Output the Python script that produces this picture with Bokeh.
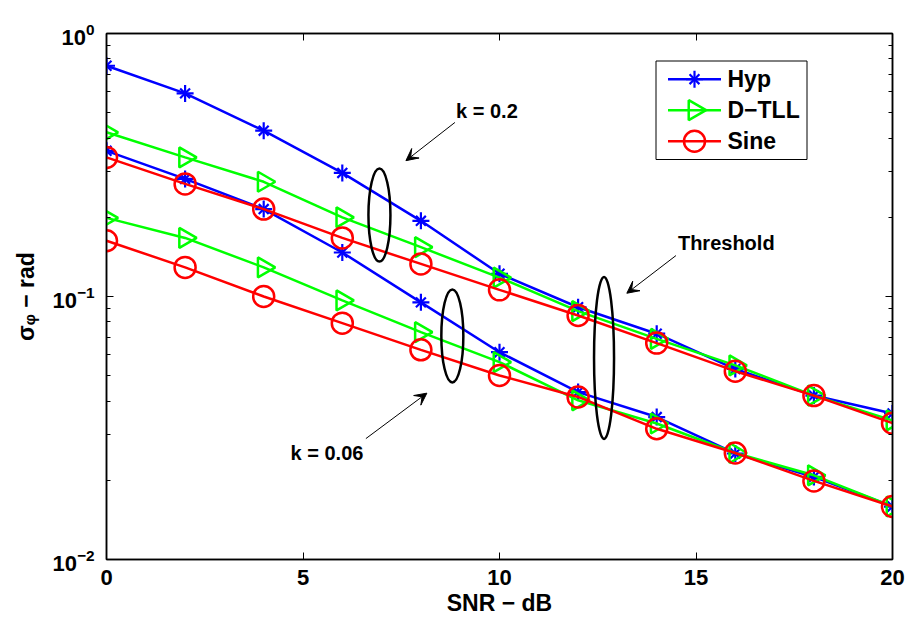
from bokeh.plotting import figure
from bokeh.models import (Range1d, LinearAxis, LogAxis, FixedTicker, CustomJSTickFormatter,
                          Label, Arrow, VeeHead, LinearScale)
from bokeh.core.properties import value
from bokeh.embed import file_html
from bokeh.resources import INLINE

snr = [0, 2, 4, 6, 8, 10, 12, 14, 16, 18, 20]
hyp_k02 = [0.754, 0.592, 0.427, 0.295, 0.194, 0.122, 0.091, 0.0722, 0.053, 0.042, 0.0359]
dtll_k02 = [0.421, 0.338, 0.273, 0.200, 0.154, 0.118, 0.088, 0.069, 0.0547, 0.042, 0.0338]
sine_k02 = [0.338, 0.268, 0.215, 0.167, 0.133, 0.106, 0.0847, 0.0665, 0.052, 0.042, 0.033]
hyp_k006 = [0.358, 0.280, 0.215, 0.147, 0.095, 0.0614, 0.0433, 0.0348, 0.0253, 0.0206, 0.0159]
dtll_k006 = [0.199, 0.167, 0.129, 0.0966, 0.0732, 0.0563, 0.0403, 0.0329, 0.0254, 0.0209, 0.0159]
sine_k006 = [0.163, 0.129, 0.100, 0.0792, 0.0627, 0.0501, 0.0415, 0.0314, 0.0254, 0.0199, 0.0159]

x_ticks = [0, 5, 10, 15, 20]
y_ticks = [0.01, 0.1, 1]
y_minor = [m * 10.0 ** e for e in (-2, -1) for m in range(2, 10)]
series_names = ["Hyp", "D\u2212TLL", "Sine"]
x_label = "SNR \u2212 dB"
y_label = "\u03c3\u1d69 \u2212 rad"

FONT = "Liberation Sans"
BLUE, GREEN, RED = "#0000ff", "#00ff00", "#ff0000"

W, H = 911, 621
BL, BR, BT, BB = 106, 19, 33, 62
FW, FH = W - BL - BR, H - BT - BB

p = figure(width=W, height=H, output_backend="svg", toolbar_location=None,
           y_axis_type="log", x_range=Range1d(0, 20), y_range=Range1d(0.01, 1),
           min_border_left=BL, min_border_right=BR, min_border_top=BT, min_border_bottom=BB)
p.extra_x_ranges = {"lx": Range1d(0, FW)}
p.extra_y_ranges = {"ly": Range1d(0, FH)}
p.extra_x_scales = {"lx": LinearScale()}
p.extra_y_scales = {"ly": LinearScale()}
p.xgrid.grid_line_color = None
p.ygrid.grid_line_color = None
p.outline_line_color = "black"
p.outline_line_width = 1.5
p.background_fill_color = "white"
p.border_fill_color = "white"

def style_axis(ax):
    ax.axis_line_color = "black"
    ax.axis_line_width = 1.5
    ax.major_tick_in = 7
    ax.major_tick_out = 0
    ax.minor_tick_in = 4
    ax.minor_tick_out = 0
    ax.major_tick_line_color = "black"
    ax.minor_tick_line_color = "black"
    ax.major_label_text_font = FONT
    ax.major_label_text_font_style = "bold"
    ax.major_label_text_font_size = "22px"
    ax.major_label_text_color = "black"
    ax.axis_label_text_font = FONT
    ax.axis_label_text_font_style = "bold"
    ax.axis_label_text_font_size = "23px"
    ax.axis_label_text_color = "black"

xa = p.xaxis[0]
style_axis(xa)
xa.ticker = FixedTicker(ticks=x_ticks)
xa.minor_tick_line_color = None
xa.major_label_standoff = 10
xa.axis_label = x_label
xa.axis_label_standoff = 2

ya = p.yaxis[0]
style_axis(ya)
ya.ticker = FixedTicker(ticks=y_ticks, minor_ticks=y_minor)
ya.major_label_standoff = 12
ya.axis_label = y_label
ya.axis_label_standoff = 10

top = LinearAxis(ticker=FixedTicker(ticks=x_ticks), formatter=CustomJSTickFormatter(code="return ''"))
style_axis(top)
top.minor_tick_line_color = None
top.major_label_standoff = 0
p.add_layout(top, "above")

right = LogAxis(ticker=FixedTicker(ticks=y_ticks, minor_ticks=y_minor),
                formatter=CustomJSTickFormatter(code="return ''"))
style_axis(right)
right.major_label_standoff = 0
p.add_layout(right, "right")

def hyp_marks(x, y, **kw):
    p.scatter(x, y, marker="cross", size=17, line_color=BLUE, line_width=2.2, **kw)
    p.scatter(x, y, marker="x", size=14, line_color=BLUE, line_width=2.2, **kw)

def dtll_marks(x, y, **kw):
    p.scatter(x, y, marker="triangle", angle=-1.5708, size=20, line_color=GREEN,
              fill_color=None, line_width=2.5, **kw)

def sine_marks(x, y, **kw):
    p.scatter(x, y, marker="circle", size=21, line_color=RED, fill_color=None, line_width=2.5, **kw)

for yv in (hyp_k02, hyp_k006):
    p.line(snr, yv, line_color=BLUE, line_width=2.5)
    hyp_marks(snr, yv)
for yv in (dtll_k02, dtll_k006):
    p.line(snr, yv, line_color=GREEN, line_width=2.5)
    dtll_marks(snr, yv)
for yv in (sine_k02, sine_k006):
    p.line(snr, yv, line_color=RED, line_width=2.5)
    sine_marks(snr, yv)

# ellipses marking groups
ell_x = [6.945, 8.80, 12.66]
ell_y = [0.204, 0.0708, 0.0584]
ell_w = [22, 22, 20]
ell_h = [93, 93, 162]
p.ellipse(x=ell_x, y=ell_y, width=ell_w, height=ell_h, width_units="screen", height_units="screen",
          fill_color=None, line_color="black", line_width=2.5)

# annotations
ann_text = ["k = 0.2", "k = 0.06", "Threshold"]
ann_x = [9.68, 5.61, 15.77]
ann_y = [0.5086, 0.02534, 0.1603]
for t, x, y in zip(ann_text, ann_x, ann_y):
    p.add_layout(Label(x=x, y=y, text=t, text_align="center", text_baseline="middle",
                       text_font=FONT, text_font_style="bold", text_font_size="20px",
                       text_color="black"))

arrows = [
    (8.866, 0.459, 7.619, 0.3285),
    (6.60, 0.02882, 8.152, 0.0429),
    (14.49, 0.1431, 13.24, 0.1029),
]
for xs, ys, xe, ye in arrows:
    p.add_layout(Arrow(end=VeeHead(size=12, fill_color="black", line_color="black", line_width=1),
                       x_start=xs, y_start=ys, x_end=xe, y_end=ye,
                       line_color="black", line_width=1))

# legend (frame pixel coordinates, origin bottom-left)
LG_L, LG_R, LG_B, LG_T = 549.5, 700.5, 400.0, 498.5
row_y = [480.3, 449.3, 418.3]
ln_x0, ln_x1, mk_x, tx_x = 561.5, 614.5, 588.0, 621.0
lk = dict(x_range_name="lx", y_range_name="ly")
p.quad(left=[LG_L], right=[LG_R], bottom=[LG_B], top=[LG_T], fill_color="white",
       line_color="black", line_width=1, **lk)
cols = [BLUE, GREEN, RED]
p.segment(x0=[ln_x0] * 3, x1=[ln_x1] * 3, y0=row_y, y1=row_y, line_color=cols, line_width=2.5, **lk)
hyp_marks([mk_x], [row_y[0]], **lk)
dtll_marks([mk_x], [row_y[1]], **lk)
sine_marks([mk_x], [row_y[2]], **lk)
p.text(x=[tx_x] * 3, y=row_y, text=series_names, text_align="left", text_baseline="middle",
       text_font=value(FONT), text_font_style="bold", text_font_size="23px", text_color="black", **lk)

open("out.html", "w").write(file_html(p, INLINE))
